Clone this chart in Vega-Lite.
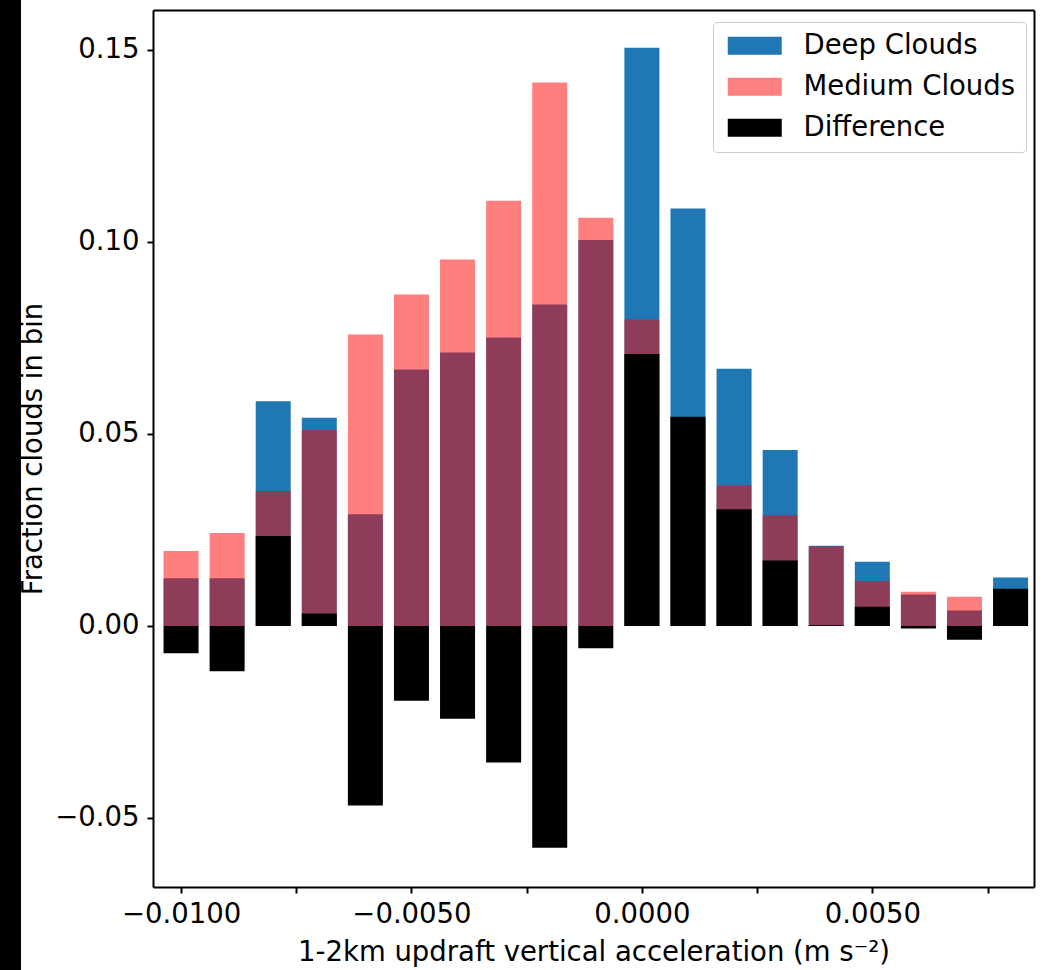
{
  "$schema": "https://vega.github.io/schema/vega-lite/v6.json",
  "width": 881,
  "height": 877,
  "autosize": {"type": "none"},
  "padding": {"left": 153, "top": 10, "right": 9, "bottom": 83},
  "background": "#000000",
  "config": {
    "view": {"fill": "#ffffff", "stroke": "#ffffff", "strokeWidth": 264},
    "font": "DejaVu Sans"
  },
  "data": {
    "values": [
      {"acc": -0.010, "series": "Deep Clouds", "frac": 0.0124},
      {"acc": -0.010, "series": "Medium Clouds", "frac": 0.0195},
      {"acc": -0.010, "series": "Difference", "frac": -0.0071},
      {"acc": -0.009, "series": "Deep Clouds", "frac": 0.0124},
      {"acc": -0.009, "series": "Medium Clouds", "frac": 0.0242},
      {"acc": -0.009, "series": "Difference", "frac": -0.0118},
      {"acc": -0.008, "series": "Deep Clouds", "frac": 0.0585},
      {"acc": -0.008, "series": "Medium Clouds", "frac": 0.0351},
      {"acc": -0.008, "series": "Difference", "frac": 0.0234},
      {"acc": -0.007, "series": "Deep Clouds", "frac": 0.0542},
      {"acc": -0.007, "series": "Medium Clouds", "frac": 0.0510},
      {"acc": -0.007, "series": "Difference", "frac": 0.0032},
      {"acc": -0.006, "series": "Deep Clouds", "frac": 0.0291},
      {"acc": -0.006, "series": "Medium Clouds", "frac": 0.0759},
      {"acc": -0.006, "series": "Difference", "frac": -0.0468},
      {"acc": -0.005, "series": "Deep Clouds", "frac": 0.0668},
      {"acc": -0.005, "series": "Medium Clouds", "frac": 0.0863},
      {"acc": -0.005, "series": "Difference", "frac": -0.0195},
      {"acc": -0.004, "series": "Deep Clouds", "frac": 0.0712},
      {"acc": -0.004, "series": "Medium Clouds", "frac": 0.0954},
      {"acc": -0.004, "series": "Difference", "frac": -0.0242},
      {"acc": -0.003, "series": "Deep Clouds", "frac": 0.0751},
      {"acc": -0.003, "series": "Medium Clouds", "frac": 0.1107},
      {"acc": -0.003, "series": "Difference", "frac": -0.0356},
      {"acc": -0.002, "series": "Deep Clouds", "frac": 0.0837},
      {"acc": -0.002, "series": "Medium Clouds", "frac": 0.1415},
      {"acc": -0.002, "series": "Difference", "frac": -0.0578},
      {"acc": -0.001, "series": "Deep Clouds", "frac": 0.1005},
      {"acc": -0.001, "series": "Medium Clouds", "frac": 0.1063},
      {"acc": -0.001, "series": "Difference", "frac": -0.0058},
      {"acc": 0.000, "series": "Deep Clouds", "frac": 0.1506},
      {"acc": 0.000, "series": "Medium Clouds", "frac": 0.0798},
      {"acc": 0.000, "series": "Difference", "frac": 0.0708},
      {"acc": 0.001, "series": "Deep Clouds", "frac": 0.1087},
      {"acc": 0.001, "series": "Medium Clouds", "frac": 0.0542},
      {"acc": 0.001, "series": "Difference", "frac": 0.0545},
      {"acc": 0.002, "series": "Deep Clouds", "frac": 0.0670},
      {"acc": 0.002, "series": "Medium Clouds", "frac": 0.0366},
      {"acc": 0.002, "series": "Difference", "frac": 0.0304},
      {"acc": 0.003, "series": "Deep Clouds", "frac": 0.0458},
      {"acc": 0.003, "series": "Medium Clouds", "frac": 0.0288},
      {"acc": 0.003, "series": "Difference", "frac": 0.0170},
      {"acc": 0.004, "series": "Deep Clouds", "frac": 0.0209},
      {"acc": 0.004, "series": "Medium Clouds", "frac": 0.0207},
      {"acc": 0.004, "series": "Difference", "frac": 0.0002},
      {"acc": 0.005, "series": "Deep Clouds", "frac": 0.0167},
      {"acc": 0.005, "series": "Medium Clouds", "frac": 0.0117},
      {"acc": 0.005, "series": "Difference", "frac": 0.0050},
      {"acc": 0.006, "series": "Deep Clouds", "frac": 0.0082},
      {"acc": 0.006, "series": "Medium Clouds", "frac": 0.0089},
      {"acc": 0.006, "series": "Difference", "frac": -0.0007},
      {"acc": 0.007, "series": "Deep Clouds", "frac": 0.0040},
      {"acc": 0.007, "series": "Medium Clouds", "frac": 0.0076},
      {"acc": 0.007, "series": "Difference", "frac": -0.0036},
      {"acc": 0.008, "series": "Deep Clouds", "frac": 0.0126},
      {"acc": 0.008, "series": "Medium Clouds", "frac": 0.0029},
      {"acc": 0.008, "series": "Difference", "frac": 0.0097}
    ]
  },
  "layer": [
    {
      "transform": [{"filter": "datum.series === 'Deep Clouds'"}],
      "mark": {"type": "bar", "width": 35},
      "encoding": {
        "x": {
          "field": "acc", "type": "quantitative",
          "scale": {"domain": [-0.0105, 0.0084], "nice": false, "zero": false},
          "axis": {
            "orient": "bottom",
            "values": [-0.01, -0.0075, -0.005, -0.0025, 0, 0.0025, 0.005, 0.0075],
            "labelExpr": "round(datum.value*10000) % 50 === 0 ? format(datum.value, '.4f') : ''",
            "title": "1-2km updraft vertical acceleration (m s⁻²)",
            "grid": false,
            "domainColor": "#000000", "domainWidth": 2,
            "tickColor": "#000000", "tickWidth": 2, "tickSize": 6,
            "labelFontSize": 27.5, "labelColor": "#000000", "labelPadding": 7,
            "labelFlush": false, "labelOverlap": false,
            "titleFontSize": 27.5, "titleFontWeight": "normal", "titleColor": "#000000", "titlePadding": 11
          }
        },
        "y": {
          "field": "frac", "type": "quantitative", "stack": null,
          "scale": {"domain": [-0.068, 0.1604], "nice": false, "zero": false},
          "axis": {
            "orient": "left",
            "values": [-0.05, 0, 0.05, 0.1, 0.15],
            "format": ".2f",
            "title": "Fraction clouds in bin",
            "grid": false,
            "domainColor": "#000000", "domainWidth": 2,
            "tickColor": "#000000", "tickWidth": 2, "tickSize": 6,
            "labelFontSize": 27.5, "labelColor": "#000000", "labelPadding": 8,
            "labelFlush": false, "labelOverlap": false,
            "titleFontSize": 27.5, "titleFontWeight": "normal", "titleColor": "#000000", "titlePadding": 7
          }
        },
        "color": {
          "field": "series", "type": "nominal",
          "scale": {"domain": ["Deep Clouds", "Medium Clouds", "Difference"], "range": ["#1f77b4", "#ff8080", "#000000"]},
          "legend": {
            "title": null,
            "orient": "none", "legendX": 560, "legendY": 12,
            "fillColor": "#ffffff", "strokeColor": "#cccccc", "cornerRadius": 4, "padding": 10,
            "symbolType": "M-1,-1H5V1H-1Z", "symbolSize": 324, "symbolStrokeWidth": 0, "symbolOpacity": 1,
            "labelFont": "DejaVu Sans", "labelFontSize": 27.5, "labelColor": "#000000", "labelOffset": 53,
            "rowPadding": 12, "labelLimit": 400
          }
        }
      }
    },
    {
      "transform": [{"filter": "datum.series === 'Medium Clouds'"}],
      "mark": {"type": "bar", "width": 35, "color": "#ff0000", "opacity": 0.5},
      "encoding": {
        "x": {
          "field": "acc", "type": "quantitative",
          "axis": {"orient": "top", "labels": false, "ticks": false, "title": null, "grid": false, "domainColor": "#000000", "domainWidth": 2}
        },
        "y": {
          "field": "frac", "type": "quantitative", "stack": null,
          "axis": {"orient": "right", "labels": false, "ticks": false, "title": null, "grid": false, "domainColor": "#000000", "domainWidth": 2}
        }
      }
    },
    {
      "transform": [{"filter": "datum.series === 'Difference'"}],
      "mark": {"type": "bar", "width": 35},
      "encoding": {
        "x": {"field": "acc", "type": "quantitative", "axis": null},
        "y": {"field": "frac", "type": "quantitative", "stack": null, "axis": null},
        "color": {"field": "series", "type": "nominal"}
      }
    }
  ],
  "resolve": {"axis": {"x": "independent", "y": "independent"}}
}
